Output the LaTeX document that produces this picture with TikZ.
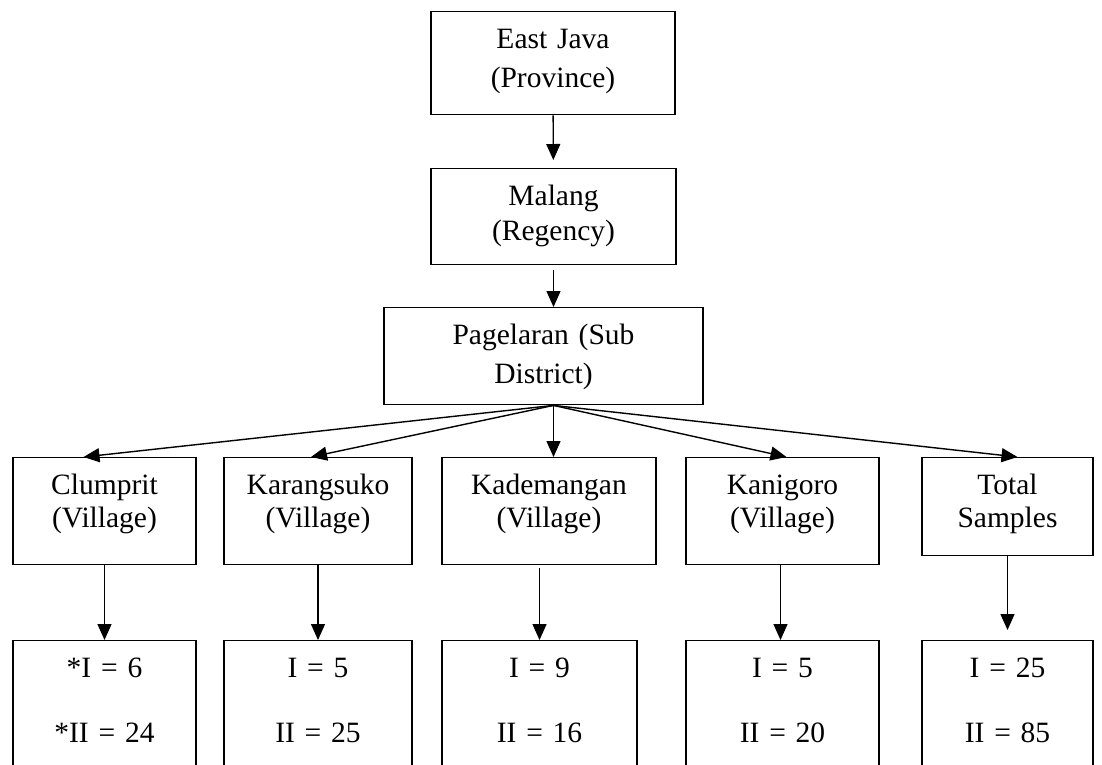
\documentclass[tikz,border=0pt]{standalone}
\usepackage{fontspec}
\setmainfont{Liberation Serif}
\usetikzlibrary{arrows.meta}

\begin{document}
\begin{tikzpicture}[x=1pt, y=-1pt, ->, >={Triangle[length=16pt,width=14pt]}, line width=1.4pt]
  \tikzstyle{every node}=[font=\fontsize{29.5}{35}\selectfont]
  \tikzstyle{box}=[draw, anchor=north, inner xsep=4pt, inner ysep=0pt, align=center, text height=37pt]
  \clip (0,0) rectangle (1102,764);

  % upper levels
  \node[box, text width=236pt, text depth=66pt] (prov) at (553,11) {East Java\\[4pt](Province)};
  \node[box, text width=237pt, text depth=59pt] (reg)  at (553.5,168) {Malang\\(Regency)};
  \node[box, text width=311pt, text depth=60pt] (sub)  at (543.5,307) {Pagelaran (Sub\\[4pt]District)};

  % villages
  \node[box, text width=175pt, text depth=70pt] (v1) at (104.5,457) {Clumprit\\[-2pt](Village)};
  \node[box, text width=180pt, text depth=70pt] (v2) at (318,457)   {Karangsuko\\[-2pt](Village)};
  \node[box, text width=206pt, text depth=70pt] (v3) at (549,457)   {Kademangan\\[-2pt](Village)};
  \node[box, text width=185pt, text depth=70pt] (v4) at (782.5,457) {Kanigoro\\[-2pt](Village)};
  \node[box, text width=163pt, text depth=61pt] (v5) at (1007.5,457) {Total\\[-2pt]Samples};

  % samples
  \node[box, text width=175pt, text depth=150pt] (n1) at (104.5,640) {*I = 6\\[30pt]*II = 24};
  \node[box, text width=180pt, text depth=150pt] (n2) at (318,640)   {I = 5\\[30pt]II = 25};
  \node[box, text width=187pt, text depth=150pt] (n3) at (539.5,640) {I = 9\\[30pt]II = 16};
  \node[box, text width=185pt, text depth=150pt] (n4) at (782.5,640) {I = 5\\[30pt]II = 20};
  \node[box, text width=163pt, text depth=150pt] (n5) at (1007.5,640) {I = 25\\[30pt]II = 85};

  \draw[shorten >=8pt] (prov) -- (reg);
  \draw ([yshift=-5pt]reg.south) -- (reg.south |- sub.north);

  \coordinate (fan) at (sub.south -| reg.south);
  \draw (fan) -- ([xshift=-21pt]v1.north);
  \draw (fan) -- ([xshift=-7pt]v2.north);
  \draw (fan) -- (fan |- v3.north);
  \draw (fan) -- ([xshift=4pt]v4.north);
  \draw (fan) -- ([xshift=10pt]v5.north);

  \draw (v1) -- (n1);
  \draw (v2) -- (n2);
  \draw ([yshift=-3pt]v3.south -| n3) -- (n3);
  \draw ([xshift=-2pt]v4.south) -- ([xshift=-2pt]n4.north);
  \draw[shorten >=10pt] (v5) -- (n5);
\end{tikzpicture}
\end{document}
